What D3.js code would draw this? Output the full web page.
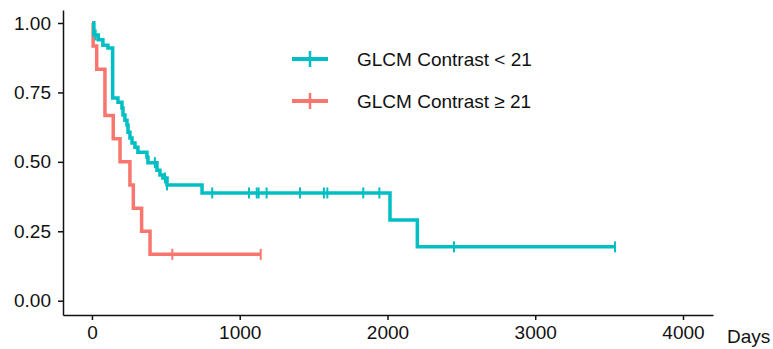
<!DOCTYPE html>
<html>
<head>
<meta charset="utf-8">
<script src="https://cdn.jsdelivr.net/npm/d3@7"></script>
<style>
  body { margin: 0; background: #fff; }
  .axis text { font-family: "Liberation Sans", Arial, sans-serif; font-size: 19px; fill: #111; }
  .axis path, .axis line { stroke: #111; stroke-width: 1.5; }
</style>
</head>
<body>
<div id="chart"></div>
<script>
// survival steps (days, survival probability)
const lowTimes = [13, 43, 74, 108, 140, 176, 203, 210, 223, 237, 244, 257, 271, 291, 311, 372, 379, 440, 460, 480, 508, 745, 2017, 2202];
const lowSurv = [0.957, 0.94, 0.92, 0.91, 0.73, 0.715, 0.694, 0.669, 0.65, 0.633, 0.607, 0.586, 0.568, 0.553, 0.535, 0.517, 0.497, 0.47, 0.453, 0.442, 0.417, 0.388, 0.291, 0.194];
const lowCensor = [25, 426, 494, 508, 814, 1063, 1115, 1128, 1182, 1408, 1570, 1593, 1836, 1945, 2450, 3540];

const highTimes = [8, 32, 88, 144, 190, 257, 280, 336, 393];
const highSurv = [0.917, 0.833, 0.667, 0.583, 0.5, 0.417, 0.333, 0.25, 0.167];
const highCensor = [544, 1142];

const xTicks = [0, 1000, 2000, 3000, 4000];
const yTicks = [0, 0.25, 0.5, 0.75, 1];
const groupNames = ["GLCM Contrast < 21", "GLCM Contrast \u2265 21"];
const groupColors = ["#00BFC4", "#F8766D"];

const width = 773, height = 349;

const svg = d3.select("#chart").append("svg")
  .attr("width", width)
  .attr("height", height);

// scales
const x = d3.scaleLinear().domain([-196, 4203]).range([63, 713]);
const y = d3.scaleLinear().domain([-0.0515, 1.0468]).range([315, 10]);

// axes
svg.append("g")
  .attr("class", "axis")
  .attr("transform", "translate(0,315)")
  .call(d3.axisBottom(x).tickValues(xTicks).tickFormat(d3.format("d")).tickSize(5).tickSizeOuter(0).tickPadding(6));

svg.append("g")
  .attr("class", "axis")
  .attr("transform", "translate(63,0)")
  .call(d3.axisLeft(y).tickValues(yTicks).tickFormat(d3.format(".2f")).tickSize(5).tickSizeOuter(0).tickPadding(7));

svg.append("text")
  .attr("x", 727)
  .attr("y", 336)
  .attr("dy", "0.35em")
  .attr("font-family", "Liberation Sans, Arial, sans-serif")
  .attr("font-size", 19)
  .attr("fill", "#111")
  .text("Days");

// step value at time t
function survAt(times, surv, t) {
  var s = 1;
  for (var i = 0; i < times.length; i++) {
    if (times[i] <= t) s = surv[i];
  }
  return s;
}

var line = d3.line()
  .x(d => x(d[0]))
  .y(d => y(d[1]))
  .curve(d3.curveStepAfter);

var groups = [
  { times: lowTimes, surv: lowSurv, censor: lowCensor, color: groupColors[0] },
  { times: highTimes, surv: highSurv, censor: highCensor, color: groupColors[1] }
];

// draw red first so teal sits on top
groups.slice().reverse().forEach(function(g) {
  var pts = [[0, 1]];
  g.times.forEach((t, i) => pts.push([t, g.surv[i]]));
  var last = d3.max(g.censor);
  pts.push([last, survAt(g.times, g.surv, last)]);

  svg.append("path")
    .datum(pts)
    .attr("fill", "none")
    .attr("stroke", g.color)
    .attr("stroke-width", 3.5)
    .attr("stroke-linejoin", "miter")
    .attr("d", line);

  svg.append("g")
    .selectAll("line")
    .data(g.censor)
    .enter().append("line")
      .attr("x1", d => x(d))
      .attr("x2", d => x(d))
      .attr("y1", d => y(survAt(g.times, g.surv, d)) - 5.5)
      .attr("y2", d => y(survAt(g.times, g.surv, d)) + 5.5)
      .attr("stroke", g.color)
      .attr("stroke-width", 2);
});

// legend
var legend = svg.append("g")
  .selectAll("g")
  .data(groupNames)
  .enter().append("g")
    .attr("transform", (d, i) => "translate(0," + (59 + i * 42) + ")");

legend.append("line")
  .attr("x1", 292).attr("x2", 328)
  .attr("stroke", (d, i) => groupColors[i])
  .attr("stroke-width", 4);

legend.append("line")
  .attr("x1", 310).attr("x2", 310)
  .attr("y1", -8).attr("y2", 8)
  .attr("stroke", (d, i) => groupColors[i])
  .attr("stroke-width", 2.5);

legend.append("text")
  .attr("x", 357)
  .attr("dy", "0.35em")
  .attr("font-family", "Liberation Sans, Arial, sans-serif")
  .attr("font-size", 19)
  .attr("fill", "#111")
  .text(d => d);
</script>
</body>
</html>
